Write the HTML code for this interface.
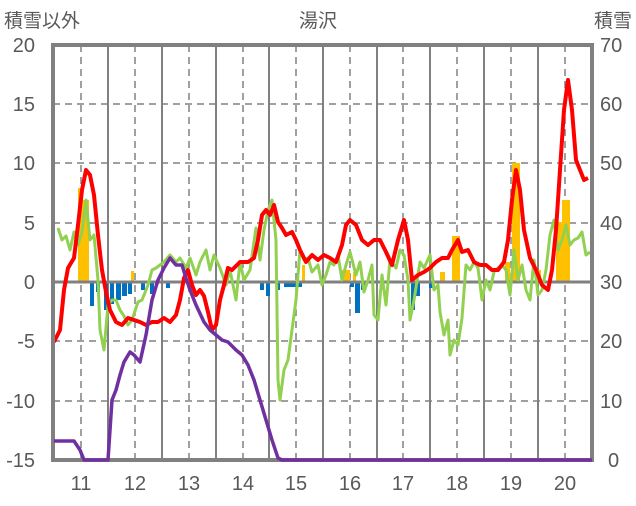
<!DOCTYPE html>
<html><head><meta charset="utf-8"><style>
body{margin:0;background:#fff;width:636px;height:501px;overflow:hidden}
svg text{font-family:"Liberation Sans","Noto Sans CJK JP",sans-serif;fill:#595959}
</style></head><body>
<svg width="636" height="501" viewBox="0 0 636 501">
<text x="4" y="27" font-size="19">積雪以外</text>
<text x="318" y="27" font-size="19" text-anchor="middle">湯沢</text>
<text x="632" y="27" font-size="19" text-anchor="end">積雪</text>
<g stroke="#808080" stroke-width="1.5" stroke-dasharray="7,5">
<line x1="53" y1="104" x2="592" y2="104"/><line x1="53" y1="163" x2="592" y2="163"/>
<line x1="53" y1="223" x2="592" y2="223"/><line x1="53" y1="341" x2="592" y2="341"/>
<line x1="53" y1="401" x2="592" y2="401"/>
<line x1="81" y1="45" x2="81" y2="460"/><line x1="135" y1="45" x2="135" y2="460"/>
<line x1="189" y1="45" x2="189" y2="460"/><line x1="243" y1="45" x2="243" y2="460"/>
<line x1="296" y1="45" x2="296" y2="460"/><line x1="350" y1="45" x2="350" y2="460"/>
<line x1="403" y1="45" x2="403" y2="460"/><line x1="457" y1="45" x2="457" y2="460"/>
<line x1="511" y1="45" x2="511" y2="460"/><line x1="565" y1="45" x2="565" y2="460"/>
</g>
<g stroke="#808080" stroke-width="2">
<line x1="108" y1="45" x2="108" y2="460"/><line x1="162" y1="45" x2="162" y2="460"/>
<line x1="216" y1="45" x2="216" y2="460"/><line x1="269" y1="45" x2="269" y2="460"/>
<line x1="323" y1="45" x2="323" y2="460"/><line x1="377" y1="45" x2="377" y2="460"/>
<line x1="430" y1="45" x2="430" y2="460"/><line x1="484" y1="45" x2="484" y2="460"/>
<line x1="538" y1="45" x2="538" y2="460"/>
</g>
<g fill="#ffc000">
<rect x="78" y="188" width="5" height="94"/><rect x="83" y="200" width="6" height="82"/>
<rect x="131" y="271" width="3" height="11"/><rect x="302" y="265" width="3" height="17"/>
<rect x="342" y="270" width="8" height="12"/><rect x="353" y="272" width="3" height="10"/>
<rect x="440" y="272" width="5" height="10"/><rect x="452" y="236" width="8" height="46"/>
<rect x="505" y="262" width="5" height="20"/><rect x="512" y="163" width="8" height="119"/>
<rect x="537" y="270" width="4" height="12"/><rect x="556" y="222" width="6" height="60"/>
<rect x="562" y="200" width="8" height="82"/>
</g>
<g fill="#0070c0">
<rect x="90" y="282" width="4" height="24"/><rect x="96" y="282" width="4" height="10"/>
<rect x="104" y="282" width="4" height="28"/><rect x="110" y="282" width="4" height="22"/>
<rect x="116" y="282" width="5" height="18"/><rect x="122" y="282" width="5" height="14"/>
<rect x="128" y="282" width="4" height="12"/><rect x="141" y="282" width="4" height="8"/>
<rect x="150" y="282" width="4" height="12"/><rect x="166" y="282" width="4" height="6"/>
<rect x="260" y="282" width="4" height="8"/><rect x="266" y="282" width="4" height="14"/>
<rect x="276" y="282" width="4" height="8"/><rect x="284" y="282" width="18" height="5"/>
<rect x="350" y="282" width="4" height="5"/><rect x="355" y="282" width="5" height="31"/>
<rect x="361" y="282" width="4" height="8"/><rect x="411" y="282" width="4" height="28"/>
<rect x="416" y="282" width="4" height="14"/><rect x="429" y="282" width="4" height="6"/>
</g>
<line x1="53" y1="282" x2="592" y2="282" stroke="#808080" stroke-width="3"/>
<polyline fill="none" stroke="#92d050" stroke-width="3" stroke-linejoin="round" points="58,228 62,240 66,236 70,250 74,232 78,245 82,232 86,200 90,240 94,235 98,280 100,330 104,350 108,305 112,300 116,300 120,310 124,316 128,325 132,320 138,302 142,300 148,285 152,270 156,268 160,265 164,262 170,255 176,262 180,258 186,268 190,258 196,275 200,262 206,250 210,270 214,255 220,268 226,285 230,270 236,300 240,262 244,280 250,270 256,228 260,260 264,230 268,210 272,200 276,240 278,380 280,400 284,370 288,360 292,330 296,300 300,250 304,260 308,258 312,272 318,265 322,285 326,275 330,262 334,265 338,255 342,280 346,265 350,252 356,275 360,262 364,292 368,280 372,265 374,315 378,320 382,275 386,305 390,260 396,268 400,250 404,255 408,280 410,320 414,300 420,262 424,268 430,255 434,290 438,285 440,312 444,335 448,320 450,355 454,340 458,345 462,318 466,265 470,270 474,262 478,268 482,300 486,280 490,290 494,272 498,268 502,265 506,270 510,295 514,250 518,280 522,265 526,290 530,300 534,260 538,295 542,290 546,270 550,235 554,220 558,250 562,240 566,225 570,245 574,240 578,238 582,232 586,255 590,252"/>
<polyline fill="none" stroke="#ff0000" stroke-width="4" stroke-linejoin="round" points="54,342 60,330 64,290 68,268 74,258 78,225 82,190 86,170 90,175 94,195 98,235 102,270 106,292 110,310 116,322 122,325 128,318 134,320 140,322 146,325 152,322 158,322 164,318 170,322 176,315 180,300 184,278 188,270 192,285 196,295 200,290 204,296 208,312 212,330 216,325 220,300 224,285 228,268 232,270 240,262 248,262 254,258 258,240 262,215 266,210 270,215 274,205 278,222 282,228 286,235 292,232 296,240 300,250 306,262 312,255 318,260 324,255 330,258 336,262 342,245 346,225 350,220 356,225 362,240 368,245 374,240 380,240 386,252 392,265 398,240 404,220 408,240 412,280 418,275 424,272 430,268 436,262 442,258 448,258 452,250 458,240 462,252 468,250 474,262 480,265 486,265 492,270 498,270 504,262 508,240 512,200 516,170 520,190 524,230 530,258 536,270 542,285 548,290 552,270 556,230 560,170 564,110 568,80 572,110 576,160 580,170 584,180 588,178"/>
<rect x="53" y="45" width="539" height="415" fill="none" stroke="#808080" stroke-width="4"/>
<polyline fill="none" stroke="#7030a0" stroke-width="3.5" stroke-linejoin="round" points="54,441 74,441 80,450 84,460 108,460 112,400 116,390 120,375 124,362 130,352 134,355 140,362 146,335 152,300 158,280 164,268 170,258 176,265 182,265 186,278 190,290 196,305 204,322 210,330 216,335 222,340 228,342 236,350 242,355 248,365 254,380 260,400 266,420 272,440 278,458 282,460 592,460"/>
<g font-size="20" text-anchor="end">
<text x="35" y="52">20</text><text x="35" y="111">15</text><text x="35" y="170">10</text>
<text x="35" y="230">5</text><text x="35" y="289">0</text><text x="35" y="348">-5</text>
<text x="35" y="408">-10</text><text x="35" y="467">-15</text>
</g>
<g font-size="20" text-anchor="start">
<text x="600" y="52">70</text><text x="600" y="111">60</text><text x="600" y="170">50</text>
<text x="600" y="230">40</text><text x="600" y="289">30</text><text x="600" y="348">20</text>
<text x="600" y="408">10</text><text x="608" y="467">0</text>
</g>
<g font-size="20" text-anchor="middle">
<text x="81" y="490">11</text><text x="135" y="490">12</text><text x="189" y="490">13</text>
<text x="243" y="490">14</text><text x="296" y="490">15</text><text x="350" y="490">16</text>
<text x="403" y="490">17</text><text x="457" y="490">18</text><text x="511" y="490">19</text>
<text x="565" y="490">20</text>
</g>
</svg>
</body></html>
